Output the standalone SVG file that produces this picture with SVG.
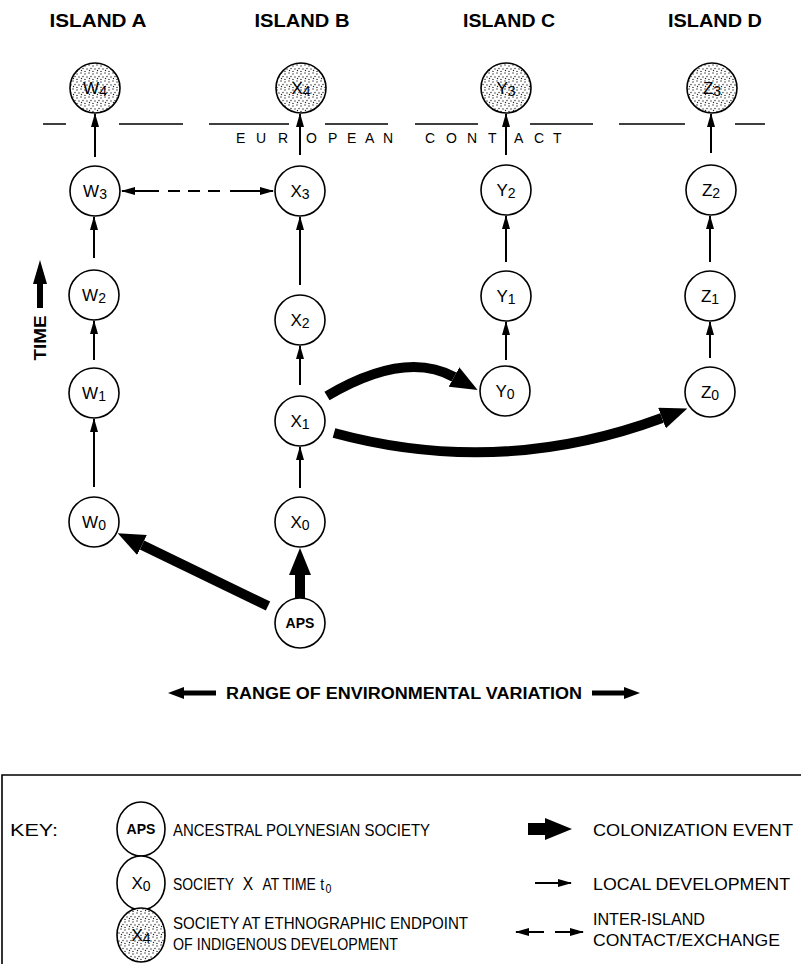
<svg xmlns="http://www.w3.org/2000/svg" width="801" height="964" viewBox="0 0 801 964">
  <defs>
    <style>
      text { font-family: "Liberation Sans", Arial, sans-serif; fill: #000; }
      .island { font-size: 19px; font-weight: bold; text-anchor: middle; }
      .node circle, .node ellipse { fill: #fff; stroke: #000; stroke-width: 1.6; }
      .node.endpoint circle, .node.endpoint ellipse { fill: url(#stipple); }
      .lbl { font-size: 17px; text-anchor: middle; }
      .sub { font-size: 14px; }
      .aps { font-size: 14px; font-weight: bold; text-anchor: middle; }
      .local { stroke: #000; stroke-width: 2; fill: none; marker-end: url(#head-local); }
      .colon { stroke: #000; stroke-width: 10; fill: none; marker-end: url(#head-colon); }
      .exchange { stroke: #000; stroke-width: 2; fill: none; marker-start: url(#head-local); marker-end: url(#head-local); }
      .range { stroke: #000; stroke-width: 5; fill: none; marker-end: url(#head-range); }
      .contact { stroke: #000; stroke-width: 1.6; fill: none; }
      .spaced { font-size: 14px; }
      .key { font-size: 17px; }
    </style>
    <pattern id="stipple" width="8" height="8" patternUnits="userSpaceOnUse">
      <rect width="8" height="8" fill="#fff"/>
      <circle cx="1" cy="1" r="0.7" fill="#222"/>
      <circle cx="5" cy="2" r="0.7" fill="#222"/>
      <circle cx="3" cy="4.5" r="0.7" fill="#222"/>
      <circle cx="7" cy="5" r="0.7" fill="#222"/>
      <circle cx="1.5" cy="6.5" r="0.7" fill="#222"/>
      <circle cx="5" cy="7.5" r="0.7" fill="#222"/>
    </pattern>
    <marker id="head-local" viewBox="0 0 14 8" refX="13" refY="4" markerWidth="14" markerHeight="8" markerUnits="userSpaceOnUse" orient="auto-start-reverse">
      <path d="M0,0 L14,4 L0,8 z" fill="#000"/>
    </marker>
    <marker id="head-colon" viewBox="0 0 27 22" refX="0" refY="11" markerWidth="27" markerHeight="22" markerUnits="userSpaceOnUse" orient="auto">
      <path d="M0,0 L27,11 L0,22 z" fill="#000"/>
    </marker>
    <marker id="head-range" viewBox="0 0 16 12" refX="0" refY="6" markerWidth="16" markerHeight="12" markerUnits="userSpaceOnUse" orient="auto">
      <path d="M0,0 L16,6 L0,12 z" fill="#000"/>
    </marker>
  </defs>

  <rect width="801" height="964" fill="#fff"/>

  <!-- island headings -->
  <g id="headings">
    <text class="island" x="98" y="27" textLength="97" lengthAdjust="spacingAndGlyphs">ISLAND  A</text>
    <text class="island" x="302" y="27" textLength="95" lengthAdjust="spacingAndGlyphs">ISLAND  B</text>
    <text class="island" x="509" y="27" textLength="92" lengthAdjust="spacingAndGlyphs">ISLAND  C</text>
    <text class="island" x="715" y="27" textLength="94" lengthAdjust="spacingAndGlyphs">ISLAND  D</text>
  </g>

  <!-- European contact horizon -->
  <g id="european-contact">
    <path class="contact" d="M43,124 H66 M119,124 H183 M209,124 H289 M325,124 H388 M415,124 H478 M530,124 H593 M619,124 H685 M735,124 H765"/>
    <text class="spaced" x="236 256 278 306 328 347 365 383" y="143">EUROPEAN</text>
    <text class="spaced" x="425 446 467 488 514 534 553" y="143">CONTACT</text>
  </g>

  <!-- time axis -->
  <g id="time-axis">
    <rect x="37" y="281" width="6" height="27" fill="#000"/>
    <path d="M33,284 L40,260 L47,284 z" fill="#000"/>
    <text transform="translate(46,338) rotate(-90)" font-size="16" font-weight="bold" text-anchor="middle" textLength="45" lengthAdjust="spacingAndGlyphs">TIME</text>
  </g>

  <!-- connectors -->
  <g id="connectors">
    <!-- local development -->
    <path class="local" d="M94,487 V419"/>
    <path class="local" d="M94,360 V321"/>
    <path class="local" d="M94,258 V217"/>
    <path class="local" d="M95,157 V114"/>
    <path class="local" d="M300,488 V447"/>
    <path class="local" d="M300,385 V346"/>
    <path class="local" d="M300,285 V217"/>
    <path class="local" d="M300,155 V114"/>
    <path class="local" d="M506,360 V322"/>
    <path class="local" d="M506,262 V216"/>
    <path class="local" d="M506,155 V114"/>
    <path class="local" d="M710,358 V322"/>
    <path class="local" d="M710,262 V216"/>
    <path class="local" d="M711,153 V114"/>
    <!-- inter-island contact -->
    <path class="exchange" d="M122,191 H273" stroke-dasharray="37 9 12 8 12 8 12 10 43"/>
    <!-- colonization events -->
    <path class="colon" d="M268,606 L142,545"/>
    <path class="colon" d="M300,598 V575"/>
    <path class="colon" d="M327,396 Q405,350 454,377"/>
    <path class="colon" d="M334,433 Q500,478 662,418"/>
  </g>

  <!-- nodes -->
  <g id="W4" class="node endpoint"><circle cx="95" cy="88" r="25"/><text class="lbl" x="95" y="94">W<tspan class="sub" dy="2">4</tspan></text></g>
  <g id="W3" class="node"><circle cx="95" cy="191" r="25"/><text class="lbl" x="95" y="197">W<tspan class="sub" dy="2">3</tspan></text></g>
  <g id="W2" class="node"><circle cx="94" cy="295" r="25"/><text class="lbl" x="94" y="301">W<tspan class="sub" dy="2">2</tspan></text></g>
  <g id="W1" class="node"><circle cx="94" cy="393" r="25"/><text class="lbl" x="94" y="399">W<tspan class="sub" dy="2">1</tspan></text></g>
  <g id="W0" class="node"><circle cx="94" cy="522" r="25"/><text class="lbl" x="94" y="528">W<tspan class="sub" dy="2">0</tspan></text></g>

  <g id="X4" class="node endpoint"><circle cx="301" cy="88" r="25"/><text class="lbl" x="301" y="94">X<tspan class="sub" dy="2">4</tspan></text></g>
  <g id="X3" class="node"><circle cx="300" cy="191" r="25"/><text class="lbl" x="300" y="197">X<tspan class="sub" dy="2">3</tspan></text></g>
  <g id="X2" class="node"><circle cx="300" cy="320" r="25"/><text class="lbl" x="300" y="326">X<tspan class="sub" dy="2">2</tspan></text></g>
  <g id="X1" class="node"><circle cx="300" cy="421" r="25"/><text class="lbl" x="300" y="427">X<tspan class="sub" dy="2">1</tspan></text></g>
  <g id="X0" class="node"><circle cx="300" cy="522" r="25"/><text class="lbl" x="300" y="528">X<tspan class="sub" dy="2">0</tspan></text></g>

  <g id="APS" class="node"><circle cx="300" cy="623" r="25"/><text class="aps" x="300" y="628">APS</text></g>

  <g id="Y3" class="node endpoint"><circle cx="506" cy="88" r="25"/><text class="lbl" x="506" y="94">Y<tspan class="sub" dy="2">3</tspan></text></g>
  <g id="Y2" class="node"><circle cx="506" cy="190" r="25"/><text class="lbl" x="506" y="196">Y<tspan class="sub" dy="2">2</tspan></text></g>
  <g id="Y1" class="node"><circle cx="506" cy="296" r="25"/><text class="lbl" x="506" y="302">Y<tspan class="sub" dy="2">1</tspan></text></g>
  <g id="Y0" class="node"><circle cx="505" cy="391" r="25"/><text class="lbl" x="505" y="397">Y<tspan class="sub" dy="2">0</tspan></text></g>

  <g id="Z3" class="node endpoint"><circle cx="712" cy="88" r="25"/><text class="lbl" x="712" y="94">Z<tspan class="sub" dy="2">3</tspan></text></g>
  <g id="Z2" class="node"><circle cx="711" cy="190" r="25"/><text class="lbl" x="711" y="196">Z<tspan class="sub" dy="2">2</tspan></text></g>
  <g id="Z1" class="node"><circle cx="710" cy="296" r="25"/><text class="lbl" x="710" y="302">Z<tspan class="sub" dy="2">1</tspan></text></g>
  <g id="Z0" class="node"><circle cx="710" cy="392" r="25"/><text class="lbl" x="710" y="398">Z<tspan class="sub" dy="2">0</tspan></text></g>

  <!-- environmental range axis -->
  <g id="range-axis">
    <path class="range" d="M216,693 H184"/>
    <path class="range" d="M592,693 H624"/>
    <text x="226" y="699" font-size="16" font-weight="bold" textLength="356" lengthAdjust="spacingAndGlyphs">RANGE  OF  ENVIRONMENTAL  VARIATION</text>
  </g>

  <!-- key -->
  <g id="key">
    <path d="M2,964 V775 H801" fill="none" stroke="#000" stroke-width="1.6"/>
    <text class="key" x="10" y="836" textLength="48" lengthAdjust="spacingAndGlyphs">KEY:</text>

    <g id="key-aps" class="node"><ellipse cx="141" cy="829" rx="24" ry="27"/><text class="aps" x="141" y="834">APS</text></g>
    <text class="key" x="173" y="836" textLength="257" lengthAdjust="spacingAndGlyphs">ANCESTRAL POLYNESIAN SOCIETY</text>

    <g id="key-x0" class="node"><ellipse cx="141" cy="883" rx="24" ry="27"/><text class="lbl" x="141" y="889">X<tspan class="sub" dy="2">0</tspan></text></g>
    <!-- condensed line: "SOCIETY X AT TIME t0" -->
    <g transform="translate(173,890) scale(0.82,1)">
      <text class="key" x="0" y="0">SOCIETY</text>
      <text x="85" y="0" font-size="19">X</text>
      <text class="key" x="109" y="0">AT TIME</text>
      <text class="key" x="179.5" y="0">t</text>
      <text x="186" y="3" font-size="13">0</text>
    </g>

    <g id="key-x4" class="node endpoint"><ellipse cx="141" cy="935" rx="24" ry="27"/><text class="lbl" x="141" y="941">X<tspan class="sub" dy="2">4</tspan></text></g>
    <text class="key" x="173" y="929" textLength="295" lengthAdjust="spacingAndGlyphs">SOCIETY AT ETHNOGRAPHIC ENDPOINT</text>
    <text class="key" x="173" y="950" textLength="225" lengthAdjust="spacingAndGlyphs">OF INDIGENOUS DEVELOPMENT</text>

    <path d="M528,829 H545" stroke="#000" stroke-width="12" fill="none" marker-end="url(#head-colon)"/>
    <text class="key" x="593" y="836" textLength="200" lengthAdjust="spacingAndGlyphs">COLONIZATION EVENT</text>

    <path class="local" d="M535,883 H571" stroke-width="1.6"/>
    <text class="key" x="593" y="890" textLength="197" lengthAdjust="spacingAndGlyphs">LOCAL DEVELOPMENT</text>

    <path class="local" d="M544,932 H516" stroke-width="2.5"/>
    <path class="local" d="M555,932 H583" stroke-width="2.5"/>
    <text class="key" x="593" y="925" textLength="112" lengthAdjust="spacingAndGlyphs">INTER-ISLAND</text>
    <text class="key" x="593" y="946" textLength="187" lengthAdjust="spacingAndGlyphs">CONTACT/EXCHANGE</text>
  </g>
</svg>
